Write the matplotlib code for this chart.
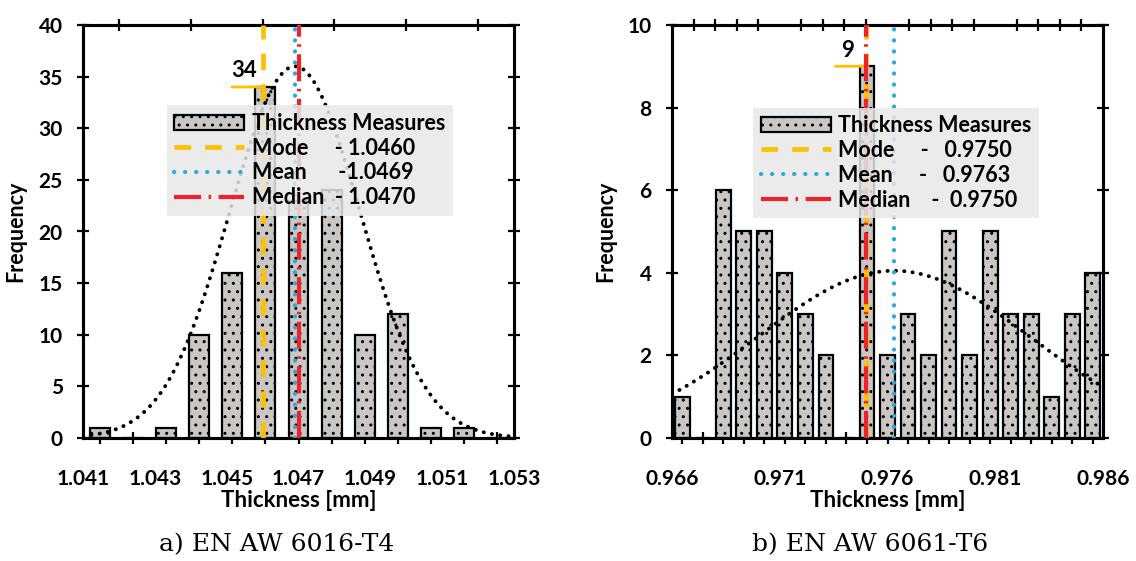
import numpy as np
import matplotlib
matplotlib.use('Agg')
import matplotlib.pyplot as plt

plt.rcParams['font.family'] = ['Lato', 'DejaVu Sans']
plt.rcParams['font.weight'] = 'bold'

# a) EN AW 6016-T4 : histogram counts per bin (category axis)
counts_a = [1, 0, 1, 10, 16, 34, 23, 24, 10, 12, 1, 1, 0]
ticks_a = [1.041, 1.043, 1.045, 1.047, 1.049, 1.051, 1.053]
mode_a, mean_a, median_a = 1.0460, 1.0469, 1.0470
fit_sigma_a, fit_peak_a = 0.00182, 36.0
peak_label_a = 34
legend_a = ['Mode     - 1.0460', 'Mean      -1.0469', 'Median  - 1.0470']

# b) EN AW 6061-T6
counts_b = [1, 0, 6, 5, 5, 4, 3, 2, 0, 9, 2, 3, 2, 5, 2, 5, 3, 3, 1, 3, 4]
ticks_b = [0.966, 0.971, 0.976, 0.981, 0.986]
mode_b, mean_b, median_b = 0.9750, 0.9763, 0.9750
fit_sigma_b, fit_peak_b = 0.0063, 4.05
peak_label_b = 9
legend_b = ['Mode     -   0.9750', 'Mean     -   0.9763', 'Median    -  0.9750']

YELLOW = '#FFC000'
BLUE = '#29A8E0'
RED = '#EE2229'
BAR = '#C9C6C3'


def panel(ax, counts, xlim, xticks, ylim, ystep, mode, mean, median,
          sigma, peak, peak_label, bar_width, legend_labels, legend_xy, ylabelpad):
    n = len(counts)
    # bars on the category axis
    bars = ax.bar(np.arange(n), counts, width=bar_width, color=BAR,
                  edgecolor='black', linewidth=1.6, hatch='..', zorder=2)
    ax.set_xlim(-0.5, n - 0.5)
    ax.set_ylim(*ylim)
    ax.set_yticks(np.arange(ylim[0], ylim[1] + 0.1, ystep))
    ax.set_xticks(np.arange(n))
    ax.tick_params(axis='x', which='major', bottom=True, top=False,
                   labelbottom=False, direction='inout', length=9, width=1.6)
    ax.tick_params(axis='y', left=True, right=True, direction='inout',
                   length=9, width=1.6, labelsize=15, pad=10)
    ax.set_ylabel('Frequency', fontsize=15.5, fontweight='bold', labelpad=ylabelpad)
    for s in ax.spines.values():
        s.set_linewidth(2.2)

    # value axis: fitted normal curve, mode / mean / median lines
    axv = ax.twiny()
    axv.set_xlim(*xlim)
    axv.set_xticks(xticks)
    axv.set_xticklabels(['{:.3f}'.format(t) for t in xticks])
    axv.set_xticks(np.arange(xlim[0], xlim[1] + 1e-9, 0.001), minor=True)
    axv.xaxis.set_ticks_position('both')
    axv.tick_params(axis='x', which='major', bottom=True, top=False,
                    labelbottom=True, labeltop=False, length=0,
                    labelsize=15, pad=22)
    axv.tick_params(axis='x', which='minor', bottom=False, top=True,
                    direction='inout', length=9, width=1.6)
    for s in axv.spines.values():
        s.set_linewidth(2.2)

    xs = np.linspace(xlim[0], xlim[1], 300)
    axv.plot(xs, peak * np.exp(-0.5 * ((xs - mean) / sigma) ** 2),
             color='black', lw=2.8, linestyle=(0, (0.05, 2.1)),
             dash_capstyle='round', zorder=3)

    l_mode = axv.axvline(mode, color=YELLOW, lw=3.4,
                         linestyle=(0, (3.5, 3.0)), zorder=4)
    l_mean = axv.axvline(mean, color=BLUE, lw=3.0, dash_capstyle='round',
                         linestyle=(0, (0.05, 2.6)), zorder=4)
    l_med = axv.axvline(median, color=RED, lw=3.0,
                        linestyle=(0, (6.5, 1.8, 0.6, 1.8)), zorder=5)

    # peak data label with leader line
    axv.annotate('', xy=(mode, peak_label), xytext=(-22, 0),
                 textcoords='offset points',
                 arrowprops=dict(arrowstyle='-', color=YELLOW, lw=2.0,
                                 shrinkA=0, shrinkB=0))
    axv.annotate(str(peak_label), xy=(mode, peak_label), xytext=(-13, 4),
                 textcoords='offset points', ha='center', va='bottom',
                 fontsize=16, fontweight='bold')

    leg = axv.legend([bars, l_mode, l_mean, l_med],
                     ['Thickness Measures'] + legend_labels,
                     loc='upper left', bbox_to_anchor=legend_xy,
                     fontsize=15.5, frameon=True, fancybox=False,
                     handlelength=3.25, handletextpad=0.35, labelspacing=0.18,
                     borderpad=0.35, borderaxespad=0)
    leg.get_frame().set_facecolor('#E8E8E8')
    leg.get_frame().set_edgecolor('none')
    leg.get_frame().set_alpha(0.85)
    leg.set_zorder(10)

    axv.set_xlabel('Thickness [mm]', fontsize=16, fontweight='bold', labelpad=1)
    axv.xaxis.set_label_position('bottom')
    return axv


fig = plt.figure(figsize=(11.36, 5.61), dpi=100)
ax1 = fig.add_axes([83 / 1136, 123 / 561, 431 / 1136, 413 / 561])
ax2 = fig.add_axes([672 / 1136, 123 / 561, 431 / 1136, 413 / 561])

panel(ax1, counts_a, (1.041, 1.053), ticks_a, (0, 40), 5,
      mode_a, mean_a, median_a, fit_sigma_a, fit_peak_a, peak_label_a, 0.6,
      legend_a, (0.194, 0.806), 9)
panel(ax2, counts_b, (0.966, 0.986), ticks_b, (0, 10), 2,
      mode_b, mean_b, median_b, fit_sigma_b, fit_peak_b, peak_label_b, 0.72,
      legend_b, (0.188, 0.80), 8)

fig.text(277 / 1136, 16 / 561, 'a) EN AW 6016-T4', ha='center', va='center',
         fontsize=18, fontweight='normal', family='DejaVu Serif')
fig.text(870 / 1136, 16 / 561, 'b) EN AW 6061-T6', ha='center', va='center',
         fontsize=18, fontweight='normal', family='DejaVu Serif')

fig.savefig('out.png', dpi=100)
